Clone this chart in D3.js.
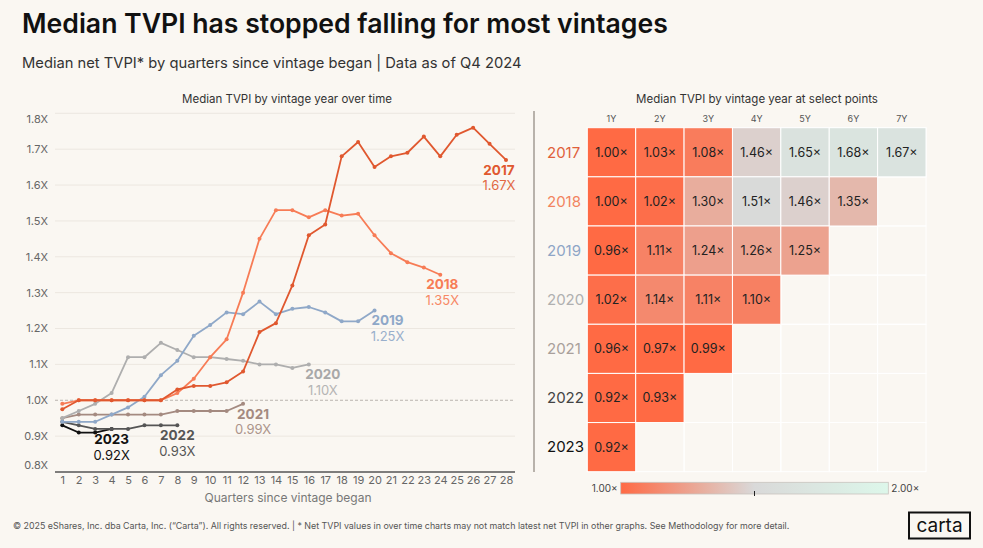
<!DOCTYPE html>
<html>
<head>
<meta charset="utf-8">
<script src="https://cdn.jsdelivr.net/npm/d3@7"></script>
<style>
  body { margin: 0; background: #faf7f2; }
  svg { display: block; font-family: Inter, "Noto Sans", sans-serif; }
</style>
</head>
<body>
<script>
// vintages and the median TVPI per quarter since the vintage began
var vintages = ["2017", "2018", "2019", "2020", "2021", "2022", "2023"];
var quarters = d3.range(1, 29);
var tvpi2017 = [0.975, 1.00, 1.00, 1.00, 1.00, 1.00, 1.00, 1.03, 1.04, 1.04, 1.05, 1.08, 1.19, 1.215, 1.32, 1.46, 1.49, 1.68, 1.72, 1.65, 1.68, 1.69, 1.735, 1.68, 1.74, 1.76, 1.715, 1.67];
var tvpi2018 = [0.99, 1.00, 1.00, 1.00, 1.00, 1.00, 1.00, 1.02, 1.06, 1.12, 1.17, 1.30, 1.45, 1.53, 1.53, 1.51, 1.53, 1.515, 1.52, 1.46, 1.41, 1.385, 1.37, 1.35];
var tvpi2019 = [0.94, 0.94, 0.94, 0.96, 0.98, 1.01, 1.07, 1.11, 1.18, 1.21, 1.245, 1.24, 1.275, 1.24, 1.255, 1.26, 1.245, 1.22, 1.22, 1.25];
var tvpi2020 = [0.95, 0.97, 0.99, 1.02, 1.12, 1.12, 1.16, 1.14, 1.12, 1.12, 1.115, 1.11, 1.10, 1.10, 1.09, 1.10];
var tvpi2021 = [0.95, 0.96, 0.96, 0.96, 0.96, 0.96, 0.96, 0.97, 0.97, 0.97, 0.97, 0.99];
var tvpi2022 = [0.94, 0.93, 0.92, 0.92, 0.92, 0.93, 0.93, 0.93];
var tvpi2023 = [0.93, 0.91, 0.91, 0.92];
var yTicks = [0.8, 0.9, 1.0, 1.1, 1.2, 1.3, 1.4, 1.5, 1.6, 1.7, 1.8];

// heatmap: median TVPI at 1Y..7Y
var yearCols = ["1Y", "2Y", "3Y", "4Y", "5Y", "6Y", "7Y"];
var heat2017 = [1.00, 1.03, 1.08, 1.46, 1.65, 1.68, 1.67];
var heat2018 = [1.00, 1.02, 1.30, 1.51, 1.46, 1.35];
var heat2019 = [0.96, 1.11, 1.24, 1.26, 1.25];
var heat2020 = [1.02, 1.14, 1.11, 1.10];
var heat2021 = [0.96, 0.97, 0.99];
var heat2022 = [0.92, 0.93];
var heat2023 = [0.92];
var legendRange = [1.00, 2.00];

var allLines = [tvpi2017, tvpi2018, tvpi2019, tvpi2020, tvpi2021, tvpi2022, tvpi2023];
var allHeat = [heat2017, heat2018, heat2019, heat2020, heat2021, heat2022, heat2023];

//colours per vintage (line, label)
var lineColor = {"2017": "#e0582f", "2018": "#f77c56", "2019": "#8fa8c8", "2020": "#aeaeae",
                 "2021": "#a48a80", "2022": "#555555", "2023": "#111111"};
var rowColor = {"2017": "#e0603a", "2018": "#f2845f", "2019": "#8ea5c6", "2020": "#b0b0b0",
                "2021": "#a9a09b", "2022": "#444444", "2023": "#111111"};
//label offsets from the last point of each line
var labelOffset = {"2017": [-7, 10], "2018": [2, 10], "2019": [13, 10], "2020": [14, 10],
                   "2021": [10, 10], "2022": [0, 10], "2023": [0, 10]};

var width = 983, height = 548;

var svg = d3.select("body").append("svg")
    .attr("width", width)
    .attr("height", height);

//fit a text element to a target width
function fitWidth(sel, target){
    var w = sel.node().getComputedTextLength();
    var fs = parseFloat(sel.attr("font-size"));
    sel.attr("font-size", fs * target / w);
}

//titles
svg.append("text")
    .attr("x", 22).attr("y", 33)
    .attr("font-size", 29).attr("font-weight", 600)
    .attr("fill", "#111")
    .text("Median TVPI has stopped falling for most vintages")
    .call(fitWidth, 646);

svg.append("text")
    .attr("x", 22).attr("y", 68)
    .attr("font-size", 16)
    .attr("fill", "#333")
    .text("Median net TVPI* by quarters since vintage began | Data as of Q4 2024")
    .call(fitWidth, 500);

//---------- line chart ----------
var x = d3.scaleLinear().domain([1, 28]).range([62.3, 506]);
var y = d3.scaleLinear().domain([0.8, 1.8]).range([472, 113.3]);

svg.append("text")
    .attr("x", 287).attr("y", 103)
    .attr("text-anchor", "middle")
    .attr("font-size", 11.5)
    .attr("fill", "#333")
    .text("Median TVPI by vintage year over time");

//gridlines
svg.selectAll(".grid")
    .data(yTicks.filter(function(d){ return d > 0.8 && Math.abs(d - 1) > 1e-9; }))
    .enter().append("line")
    .attr("class", "grid")
    .attr("x1", 55).attr("x2", 515)
    .attr("y1", function(d){ return y(d); })
    .attr("y2", function(d){ return y(d); })
    .attr("stroke", "#ece7e0")
    .attr("stroke-width", 1);

svg.append("line")
    .attr("x1", 55).attr("x2", 515)
    .attr("y1", y(1)).attr("y2", y(1))
    .attr("stroke", "#b9b4ae")
    .attr("stroke-width", 1)
    .attr("stroke-dasharray", "3,2");

//y labels (top and bottom nudged inside)
svg.selectAll(".ylab")
    .data(yTicks)
    .enter().append("text")
    .attr("class", "ylab")
    .attr("x", 48)
    .attr("y", function(d){
        var shift = d === 1.8 ? 5.5 : (d === 0.8 ? -6.5 : 0);
        return y(d) + shift;
    })
    .attr("dy", "0.35em")
    .attr("text-anchor", "end")
    .attr("font-size", 11)
    .attr("fill", "#666")
    .text(function(d){ return d.toFixed(1) + "X"; });

//x axis
var xAxis = svg.append("g")
    .attr("transform", "translate(0," + y(0.8) + ")")
    .call(d3.axisBottom(x).tickValues(quarters).tickSize(0).tickPadding(4.5).tickFormat(d3.format("d")));
xAxis.select(".domain").remove();
xAxis.selectAll("text")
    .attr("font-size", 11)
    .attr("font-family", "Inter, 'Noto Sans', sans-serif")
    .attr("fill", "#666");

svg.append("line")
    .attr("x1", 55).attr("x2", 515)
    .attr("y1", y(0.8)).attr("y2", y(0.8))
    .attr("stroke", "#555")
    .attr("stroke-width", 1.5);

svg.append("text")
    .attr("x", 288).attr("y", 502)
    .attr("text-anchor", "middle")
    .attr("font-size", 12)
    .attr("fill", "#777")
    .text("Quarters since vintage began");

//lines, drawn oldest last so 2017/2018 sit on top
var line = d3.line()
    .x(function(d, i){ return x(i + 1); })
    .y(function(d){ return y(d); });

var order = [6, 5, 4, 3, 2, 1, 0];
order.forEach(function(k){
    var yr = vintages[k], vals = allLines[k];
    var g = svg.append("g").attr("class", "vintage v" + yr);
    g.append("path")
        .datum(vals)
        .attr("d", line)
        .attr("fill", "none")
        .attr("stroke", lineColor[yr])
        .attr("stroke-width", 1.8)
        .attr("stroke-linejoin", "round");
    g.selectAll("circle")
        .data(vals)
        .enter().append("circle")
        .attr("cx", function(d, i){ return x(i + 1); })
        .attr("cy", function(d){ return y(d); })
        .attr("r", 2)
        .attr("fill", lineColor[yr]);
});

//end labels
vintages.forEach(function(yr, k){
    var vals = allLines[k];
    var last = vals[vals.length - 1];
    var lx = x(vals.length) + labelOffset[yr][0];
    var ly = y(last) + labelOffset[yr][1];
    svg.append("text")
        .attr("x", lx).attr("y", ly)
        .attr("dy", "0.35em")
        .attr("text-anchor", "middle")
        .attr("font-size", 13.5).attr("font-weight", 700)
        .attr("fill", rowColor[yr] === "#b0b0b0" ? "#a8a8a8" : lineColor[yr])
        .text(yr);
    svg.append("text")
        .attr("x", lx).attr("y", ly + 16)
        .attr("dy", "0.35em")
        .attr("text-anchor", "middle")
        .attr("font-size", 13)
        .attr("fill", lineColor[yr])
        .attr("opacity", yr === "2022" || yr === "2023" ? 1 : 0.9)
        .text(last.toFixed(2) + "X");
});

//divider
svg.append("line")
    .attr("x1", 534).attr("x2", 534)
    .attr("y1", 111).attr("y2", 472)
    .attr("stroke", "#b8b2ab")
    .attr("stroke-width", 2);

//---------- heatmap ----------
var hx = d3.scaleBand().domain(yearCols).range([587.3, 926]);
var hy = d3.scaleBand().domain(vintages).range([127.7, 471.7]);
var color = d3.scaleLinear()
    .domain([1.0, 1.5, 2.0])
    .range(["#ff6a44", "#d9d9d9", "#ddf7ea"])
    .clamp(true);

svg.append("text")
    .attr("x", 757).attr("y", 103)
    .attr("text-anchor", "middle")
    .attr("font-size", 11.5)
    .attr("fill", "#333")
    .text("Median TVPI by vintage year at select points");

svg.selectAll(".colhead")
    .data(yearCols)
    .enter().append("text")
    .attr("x", function(d){ return hx(d) + hx.bandwidth() / 2; })
    .attr("y", 119)
    .attr("dy", "0.35em")
    .attr("text-anchor", "middle")
    .attr("font-size", 9)
    .attr("fill", "#555")
    .text(function(d){ return d; });

//empty grid behind
vintages.forEach(function(yr){
    yearCols.forEach(function(c){
        svg.append("rect")
            .attr("x", hx(c)).attr("y", hy(yr))
            .attr("width", hx.bandwidth()).attr("height", hy.bandwidth())
            .attr("fill", "none")
            .attr("stroke", "#ffffff")
            .attr("stroke-width", 1);
    });
});

vintages.forEach(function(yr, k){
    var row = svg.append("g");
    row.append("text")
        .attr("x", 547).attr("y", hy(yr) + hy.bandwidth() / 2)
        .attr("dy", "0.35em")
        .attr("font-size", 15)
        .attr("fill", rowColor[yr])
        .text(yr);
    var cells = row.selectAll("g")
        .data(allHeat[k])
        .enter().append("g");
    cells.append("rect")
        .attr("x", function(d, i){ return hx(yearCols[i]); })
        .attr("y", hy(yr))
        .attr("width", hx.bandwidth()).attr("height", hy.bandwidth())
        .attr("fill", function(d){ return color(d); })
        .attr("stroke", "#ffffff")
        .attr("stroke-width", 1);
    cells.append("text")
        .attr("x", function(d, i){ return hx(yearCols[i]) + hx.bandwidth() / 2; })
        .attr("y", hy(yr) + hy.bandwidth() / 2)
        .attr("dy", "0.35em")
        .attr("text-anchor", "middle")
        .attr("font-size", 12.5)
        .attr("fill", "#222")
        .text(function(d){ return d.toFixed(2) + "\u00d7"; });
});

//legend
var lx0 = 620.7, lx1 = 888.3;
var lScale = d3.scaleLinear().domain(legendRange).range([lx0, lx1]);
var grad = svg.append("defs").append("linearGradient")
    .attr("id", "heatgrad")
    .attr("x1", "0%").attr("x2", "100%");
d3.range(0, 1.01, 0.1).forEach(function(t){
    var v = legendRange[0] + t * (legendRange[1] - legendRange[0]);
    grad.append("stop").attr("offset", (t * 100) + "%").attr("stop-color", color(v));
});
svg.append("rect")
    .attr("x", lx0).attr("y", 482.3)
    .attr("width", lx1 - lx0).attr("height", 11.7)
    .attr("fill", "url(#heatgrad)")
    .attr("stroke", "#c8c4be")
    .attr("stroke-width", 0.8);
svg.append("line")
    .attr("x1", lScale(1.5)).attr("x2", lScale(1.5))
    .attr("y1", 491).attr("y2", 496)
    .attr("stroke", "#222").attr("stroke-width", 1);
svg.append("text")
    .attr("x", lx0 - 3).attr("y", 488.5)
    .attr("dy", "0.35em").attr("text-anchor", "end")
    .attr("font-size", 10).attr("fill", "#444")
    .text(legendRange[0].toFixed(2) + "\u00d7");
svg.append("text")
    .attr("x", lx1 + 3).attr("y", 488.5)
    .attr("dy", "0.35em")
    .attr("font-size", 10).attr("fill", "#444")
    .text(legendRange[1].toFixed(2) + "\u00d7");

//footer
svg.append("text")
    .attr("x", 13).attr("y", 529)
    .attr("font-size", 9.5)
    .attr("fill", "#555")
    .text("\u00a9 2025 eShares, Inc. dba Carta, Inc. (\u201cCarta\u201d). All rights reserved.  |  * Net TVPI values in over time charts may not match latest net TVPI in other  graphs. See Methodology for more detail.")
    .call(fitWidth, 778);

//carta logo
svg.append("rect")
    .attr("x", 909).attr("y", 512.5)
    .attr("width", 61).attr("height", 26)
    .attr("fill", "none")
    .attr("stroke", "#111")
    .attr("stroke-width", 2);
svg.append("text")
    .attr("x", 939.5).attr("y", 525.5)
    .attr("dy", "0.35em")
    .attr("text-anchor", "middle")
    .attr("font-size", 19)
    .attr("fill", "#111")
    .text("carta");
</script>
</body>
</html>
